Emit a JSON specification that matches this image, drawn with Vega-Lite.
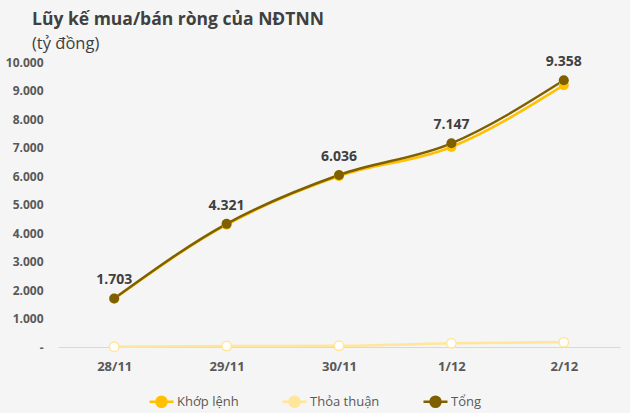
{
  "$schema": "https://vega.github.io/schema/vega-lite/v6.json",
  "width": 562,
  "height": 285,
  "autosize": {"type": "none"},
  "padding": {"left": 58, "top": 62, "right": 10, "bottom": 66},
  "background": "#f5f5f5",
  "title": {
    "text": "Lũy kế mua/bán ròng của NĐTNN",
    "subtitle": "(tỷ đồng)",
    "anchor": "start",
    "frame": "group",
    "dx": -26,
    "offset": 3,
    "font": "Open Sans",
    "fontSize": 17.5,
    "fontWeight": "bold",
    "color": "#404040",
    "subtitleFont": "Open Sans",
    "subtitleFontSize": 16.5,
    "subtitleColor": "#404040",
    "subtitlePadding": 7
  },
  "config": {
    "locale": {"number": {"decimal": ",", "thousands": ".", "grouping": [3], "currency": ["", ""]}},
    "view": {"stroke": null},
    "font": "Open Sans"
  },
  "data": {
    "values": [
      {"date": "28/11", "series": "Khớp lệnh", "value": 1693},
      {"date": "29/11", "series": "Khớp lệnh", "value": 4290},
      {"date": "30/11", "series": "Khớp lệnh", "value": 5996},
      {"date": "1/12", "series": "Khớp lệnh", "value": 7017},
      {"date": "2/12", "series": "Khớp lệnh", "value": 9188},
      {"date": "28/11", "series": "Thỏa thuận", "value": 10},
      {"date": "29/11", "series": "Thỏa thuận", "value": 31},
      {"date": "30/11", "series": "Thỏa thuận", "value": 40},
      {"date": "1/12", "series": "Thỏa thuận", "value": 130},
      {"date": "2/12", "series": "Thỏa thuận", "value": 170},
      {"date": "28/11", "series": "Tổng", "value": 1703},
      {"date": "29/11", "series": "Tổng", "value": 4321},
      {"date": "30/11", "series": "Tổng", "value": 6036},
      {"date": "1/12", "series": "Tổng", "value": 7147},
      {"date": "2/12", "series": "Tổng", "value": 9358}
    ]
  },
  "encoding": {
    "x": {
      "field": "date",
      "type": "ordinal",
      "sort": ["28/11", "29/11", "30/11", "1/12", "2/12"],
      "scale": {"type": "point", "padding": 0.5},
      "axis": {
        "title": null,
        "labelAngle": 0,
        "ticks": false,
        "domainColor": "#d9d9d9",
        "labelFontWeight": "bold",
        "labelFontSize": 13,
        "labelColor": "#595959",
        "labelPadding": 13
      }
    },
    "y": {
      "field": "value",
      "type": "quantitative",
      "scale": {"domain": [0, 10000], "nice": false},
      "axis": {
        "title": null,
        "values": [0, 1000, 2000, 3000, 4000, 5000, 6000, 7000, 8000, 9000, 10000],
        "format": ",.0f",
        "labelExpr": "datum.value === 0 ? '-' : datum.label",
        "grid": false,
        "domain": false,
        "ticks": false,
        "labelFontWeight": "bold",
        "labelFontSize": 12,
        "labelColor": "#595959",
        "labelPadding": 15
      }
    }
  },
  "layer": [
    {
      "mark": {"type": "line", "interpolate": "monotone", "strokeWidth": 2.5},
      "encoding": {
        "color": {
          "field": "series",
          "type": "nominal",
          "sort": ["Khớp lệnh", "Thỏa thuận", "Tổng"],
          "scale": {"domain": ["Khớp lệnh", "Thỏa thuận", "Tổng"], "range": ["#FFC000", "#FFE699", "#7F6000"]},
          "legend": {
            "title": null,
            "orient": "none",
            "direction": "horizontal",
            "legendX": 90,
            "legendY": 326,
            "symbolType": "M-1,0L-0.42,0M0.42,0L1,0M-0.42,0A0.42,0.42 0 1,0 0.42,0A0.42,0.42 0 1,0 -0.42,0Z",
            "symbolSize": 576,
            "symbolStrokeWidth": 2.5,
            "labelFontSize": 13,
            "labelColor": "#595959",
            "labelOffset": 2,
            "columnPadding": 38,
            "encode": {
              "symbols": {
                "update": {
                  "fill": {"signal": "datum.value === 'Thỏa thuận' ? '#ffffff' : scale('color', datum.value)"},
                  "fillOpacity": {"value": 1}
                }
              }
            }
          }
        },
        "order": {"field": "series"}
      }
    },
    {
      "transform": [{"filter": "datum.series !== 'Thỏa thuận'"}],
      "mark": {"type": "point", "filled": true, "size": 100, "opacity": 1},
      "encoding": {
        "color": {"field": "series", "type": "nominal"}
      }
    },
    {
      "transform": [{"filter": "datum.series === 'Thỏa thuận'"}],
      "mark": {"type": "point", "filled": true, "size": 90, "fill": "#ffffff", "stroke": "#FFE699", "strokeWidth": 1.5, "opacity": 1}
    },
    {
      "transform": [{"filter": "datum.series === 'Tổng'"}],
      "mark": {"type": "text", "dy": -18, "fontWeight": "bold", "fontSize": 14, "color": "#404040"},
      "encoding": {
        "text": {"field": "value", "type": "quantitative", "format": ",.0f"}
      }
    }
  ]
}
